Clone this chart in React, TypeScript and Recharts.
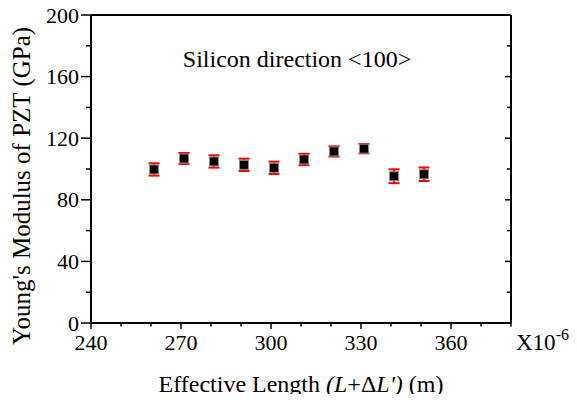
import React from 'react';
import { ScatterChart, Scatter, XAxis, YAxis, ErrorBar, Label } from 'recharts';

const lengths = [261, 271, 281, 291, 301, 311, 321, 331, 341, 351];
const modulus = [99.7, 106.8, 104.9, 102.7, 100.8, 106.2, 111.4, 113.2, 95.3, 96.6];
const errors = [4.0, 3.6, 4.0, 4.0, 4.0, 3.7, 3.3, 3.0, 4.5, 4.4];

const xTicks = [240, 250, 260, 270, 280, 290, 300, 310, 320, 330, 340, 350, 360, 370, 380];
const xLabelTicks = [240, 270, 300, 330, 360];
const yTicks = [0, 20, 40, 60, 80, 100, 120, 140, 160, 180, 200];
const yLabelTicks = [0, 40, 80, 120, 160, 200];

const data = lengths.map((x, i) => ({ x, y: modulus[i], err: errors[i] }));

const FONT = '"Liberation Serif", "Times New Roman", serif';

const BottomTick = (p: any) => {
  const v = p.payload.value;
  const major = xLabelTicks.includes(v);
  return (
    <g>
      <line x1={p.x} x2={p.x} y1={p.y} y2={p.y + (major ? 6 : 3.5)} stroke="#000" strokeWidth={1.5} />
      {major && (
        <text x={p.x} y={p.y + 27} textAnchor="middle" fontSize={22} fontFamily={FONT} fill="#000">
          {v}
        </text>
      )}
    </g>
  );
};

const TopTick = (p: any) => {
  const v = p.payload.value;
  const major = xLabelTicks.includes(v);
  return <line x1={p.x} x2={p.x} y1={p.y} y2={p.y + (major ? 6 : 4)} stroke="#000" strokeWidth={1.5} />;
};

const LeftTick = (p: any) => {
  const v = p.payload.value;
  const major = yLabelTicks.includes(v);
  return (
    <g>
      <line x1={p.x - (major ? 10 : 5)} x2={p.x} y1={p.y} y2={p.y} stroke="#000" strokeWidth={1.5} />
      {major && (
        <text x={p.x - 12} y={p.y + 7.5} textAnchor="end" fontSize={22} fontFamily={FONT} fill="#000">
          {v}
        </text>
      )}
    </g>
  );
};

const RightTick = (p: any) => {
  const v = p.payload.value;
  const major = yLabelTicks.includes(v);
  return <line x1={p.x - (major ? 6 : 4)} x2={p.x} y1={p.y} y2={p.y} stroke="#000" strokeWidth={1.5} />;
};

const Marker = (p: any) => (
  <rect x={p.cx - 4.5} y={p.cy - 4.5} width={9} height={9} fill="#000" stroke="#8a8a8a" strokeWidth={1} />
);

export default function App() {
  return (
    <div style={{ margin: -8, width: 577, height: 402 }}>
      <ScatterChart width={577} height={402} margin={{ top: 10, right: 56, bottom: 39, left: 31 }}>
        <XAxis
          xAxisId="b"
          type="number"
          dataKey="x"
          domain={[240, 380]}
          ticks={xTicks}
          interval={0}
          tick={<BottomTick />}
          tickLine={false}
          tickSize={0}
          tickMargin={0}
          height={40}
          axisLine={{ stroke: '#000', strokeWidth: 2 }}
          allowDataOverflow
        >
          <Label
            content={(lp: any) => {
              const vb = lp.viewBox;
              return (
                <text x={vb.x + vb.width / 2} y={vb.y + 69} textAnchor="middle" fontSize={24} fontFamily={FONT} fill="#000">
                  Effective Length <tspan fontStyle="italic">(L</tspan>+Δ<tspan fontStyle="italic">L')</tspan> (m)
                </text>
              );
            }}
          />
          <Label
            content={(lp: any) => {
              const vb = lp.viewBox;
              return (
                <text x={vb.x + vb.width + 5} y={vb.y + 27} fontSize={23} fontFamily={FONT} fill="#000">
                  X10<tspan fontSize={16} dy={-10}>-6</tspan>
                </text>
              );
            }}
          />
          <Label
            content={(lp: any) => {
              const vb = lp.viewBox;
              return (
                <text x={vb.x + 206} y={67} textAnchor="middle" fontSize={24} fontFamily={FONT} fill="#000">
                  Silicon direction &lt;100&gt;
                </text>
              );
            }}
          />
        </XAxis>
        <XAxis
          xAxisId="t"
          orientation="top"
          type="number"
          domain={[240, 380]}
          ticks={xTicks}
          interval={0}
          tick={<TopTick />}
          tickLine={false}
          tickSize={0}
          tickMargin={0}
          height={5}
          axisLine={{ stroke: '#000', strokeWidth: 2 }}
          allowDataOverflow
        />
        <YAxis
          yAxisId="l"
          type="number"
          dataKey="y"
          domain={[0, 200]}
          ticks={yTicks}
          interval={0}
          tick={<LeftTick />}
          tickLine={false}
          tickSize={0}
          tickMargin={0}
          width={60}
          axisLine={{ stroke: '#000', strokeWidth: 2 }}
          allowDataOverflow
        >
          <Label
            content={(lp: any) => {
              const vb = lp.viewBox;
              const cx = 30;
              const cy = vb.y + vb.height / 2 + 17;
              return (
                <text
                  x={cx}
                  y={cy}
                  transform={`rotate(-90 ${cx} ${cy})`}
                  textAnchor="middle"
                  fontSize={25}
                  fontFamily={FONT}
                  fill="#000"
                >
                  Young's Modulus of PZT (GPa)
                </text>
              );
            }}
          />
        </YAxis>
        <YAxis
          yAxisId="r"
          orientation="right"
          type="number"
          domain={[0, 200]}
          ticks={yTicks}
          interval={0}
          tick={<RightTick />}
          tickLine={false}
          tickSize={0}
          tickMargin={0}
          width={10}
          axisLine={{ stroke: '#000', strokeWidth: 2 }}
          allowDataOverflow
        />
        <Scatter
          xAxisId="b"
          yAxisId="l"
          data={data}
          dataKey="y"
          shape={<Marker />}
          isAnimationActive={false}
        >
          <ErrorBar dataKey="err" direction="y" width={5.5} stroke="#ff0000" strokeWidth={2} isAnimationActive={false} />
        </Scatter>
      </ScatterChart>
    </div>
  );
}
